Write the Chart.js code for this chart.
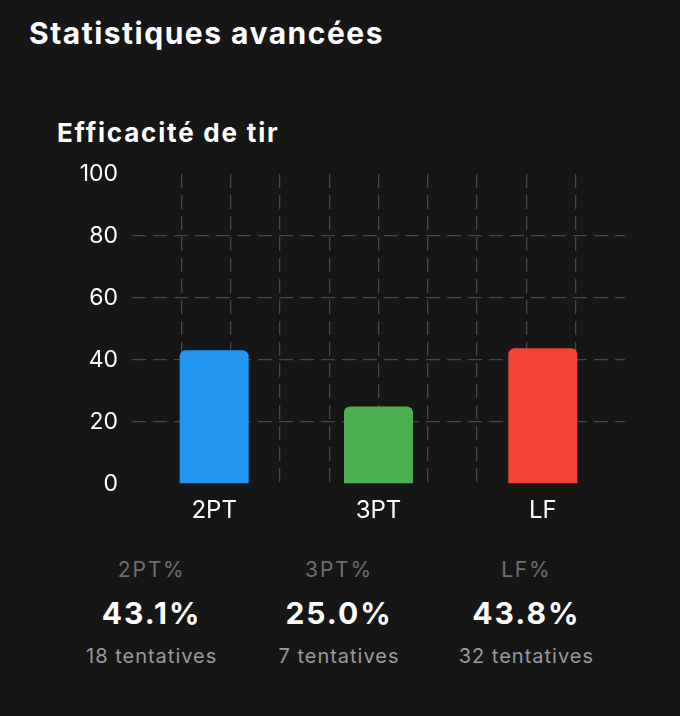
<!DOCTYPE html>
<html lang="fr">
<head>
<meta charset="utf-8">
<title>Statistiques avancées</title>
<script src="https://cdn.jsdelivr.net/npm/chart.js@4.4.1/dist/chart.umd.min.js"></script>
<style>
  html, body {
    margin: 0;
    padding: 0;
    width: 680px;
    height: 716px;
    background: #161616;
    overflow: hidden;
    font-family: "Inter", "Noto Sans", sans-serif;
    color: #fff;
  }
  .titre {
    position: absolute;
    left: 29px;
    top: 13px;
    font-size: 30px;
    font-weight: 700;
    line-height: 40px;
    letter-spacing: 1.5px;
  }
  .sous-titre {
    position: absolute;
    left: 57px;
    top: 116px;
    font-size: 26px;
    font-weight: 700;
    line-height: 34px;
    letter-spacing: 1.8px;
  }
  .graph {
    position: absolute;
    left: 58px;
    top: 146px;
    width: 567px;
    height: 377px;
  }
  .resume {
    position: absolute;
    left: 58px;
    top: 552px;
    width: 562px;
    display: flex;
  }
  .col {
    flex: 1;
    text-align: center;
  }
  .lib {
    font-size: 21px;
    line-height: 36px;
    color: #6f6f6f;
    letter-spacing: 1.8px;
  }
  .val {
    font-size: 30px;
    font-weight: 700;
    line-height: 50px;
    color: #fff;
    letter-spacing: 2px;
  }
  .tent {
    font-size: 20px;
    line-height: 36px;
    color: #9a9a9a;
    letter-spacing: 1px;
  }
</style>
</head>
<body>
<div class="titre">Statistiques avancées</div>
<div class="sous-titre">Efficacité de tir</div>
<div class="graph"><canvas id="tirChart"></canvas></div>
<div class="resume" id="resume"></div>

<script>
// Données
const categories = ['2PT', '3PT', 'LF'];
const pourcentages = [43.1, 25.0, 43.8];
const tentatives = [18, 7, 32];
const couleurs = ['#2196F3', '#4CAF50', '#F44336'];
const yTicks = [0, 20, 40, 60, 80, 100];
const yLignes = [20, 40, 60, 80];
const xLignes = [1, 2, 3, 4, 5, 6, 7, 8, 9]; // lignes verticales sur 10 divisions

const grille = '#404848';

Chart.defaults.font.family = '"Inter", "Noto Sans", sans-serif';

const ctx = document.getElementById('tirChart').getContext('2d');
new Chart(ctx, {
    type: 'bar',
    data: {
        labels: categories,
        datasets: [{
            data: pourcentages,
            backgroundColor: couleurs,
            borderRadius: 6,
            barPercentage: 0.42,
            categoryPercentage: 1
        }]
    },
    options: {
        responsive: true,
        maintainAspectRatio: false,
        animation: false,
        plugins: {
            legend: { display: false },
            tooltip: { enabled: false }
        },
        scales: {
            x: {
                grid: { display: false },
                border: { display: false },
                ticks: {
                    color: '#ffffff',
                    font: { size: 24 },
                    padding: 4
                },
                afterFit: (scale) => { scale.height = 39; }
            },
            // axe caché pour les lignes verticales de la grille
            g: {
                type: 'linear',
                axis: 'x',
                position: 'top',
                min: 0,
                max: 10,
                offset: false,
                afterBuildTicks: (scale) => {
                    scale.ticks = xLignes.map(v => ({ value: v }));
                },
                ticks: { display: false },
                grid: {
                    offset: false,
                    drawTicks: false,
                    lineWidth: 1.3,
                    color: grille
                },
                border: { display: false, dash: [14, 7] },
                afterFit: (scale) => { scale.height = 0; }
            },
            y: {
                min: 0,
                max: 100,
                afterBuildTicks: (scale) => {
                    scale.ticks = yTicks.map(v => ({ value: v }));
                },
                ticks: {
                    color: '#ffffff',
                    font: { size: 23 },
                    padding: 14
                },
                grid: {
                    drawTicks: false,
                    lineWidth: 1.3,
                    color: (c) => (c.tick && yLignes.includes(c.tick.value)) ? grille : 'rgba(0,0,0,0)'
                },
                border: { display: false, dash: [14, 7] },
                afterFit: (scale) => { scale.width = 74; }
            }
        }
    }
});

// Résumé sous le graphique
const resume = document.getElementById('resume');
categories.forEach((cat, i) => {
    const col = document.createElement('div');
    col.className = 'col';

    const lib = document.createElement('div');
    lib.className = 'lib';
    lib.textContent = cat + '%';

    const val = document.createElement('div');
    val.className = 'val';
    val.textContent = pourcentages[i].toFixed(1) + '%';

    const tent = document.createElement('div');
    tent.className = 'tent';
    tent.textContent = tentatives[i] + ' tentatives';

    col.appendChild(lib);
    col.appendChild(val);
    col.appendChild(tent);
    resume.appendChild(col);
});
</script>
</body>
</html>
